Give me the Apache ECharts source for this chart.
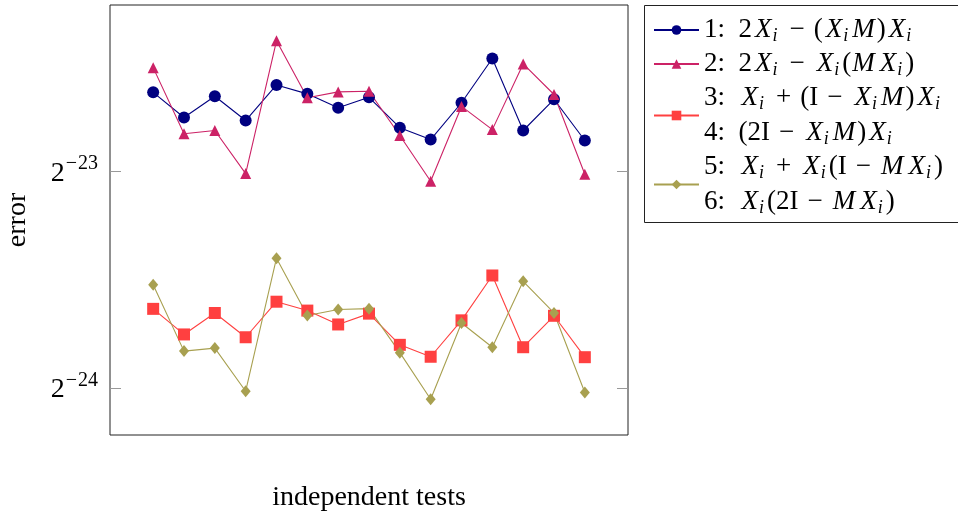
<!DOCTYPE html>
<html><head><meta charset="utf-8">
<script src="https://cdn.jsdelivr.net/npm/echarts@6/dist/echarts.min.js"></script>
<style>html,body{margin:0;padding:0;background:#fff}#c{width:958px;height:512px}</style>
</head><body><div id="c"></div>
<script>
// x positions: independent test number
const tests = [1,2,3,4,5,6,7,8,9,10,11,12,13,14,15];
// log2(error)
const log2Err1 = [-22.636,-22.752,-22.654,-22.766,-22.602,-22.643,-22.707,-22.659,-22.799,-22.854,-22.684,-22.480,-22.812,-22.668,-22.858];
const log2Err2 = [-22.522,-22.827,-22.812,-23.011,-22.398,-22.661,-22.634,-22.631,-22.835,-23.046,-22.701,-22.808,-22.505,-22.646,-23.014];
const log2Err34 = [-23.635,-23.753,-23.654,-23.766,-23.602,-23.643,-23.707,-23.657,-23.801,-23.856,-23.688,-23.481,-23.812,-23.667,-23.858];
const log2Err56 = [-23.524,-23.830,-23.816,-24.015,-23.401,-23.666,-23.638,-23.634,-23.837,-24.052,-23.700,-23.812,-23.508,-23.654,-24.021];
const yTickExps = [-24, -23];
const legendNames = ['s1','s2','s34','s56'];

const F = 'Liberation Serif';
const pair = arr => tests.map((t, i) => [t, arr[i]]);

const legendText = {
  s1: '{n|1:  2}{x|X}{s|i}{o|−}{n|(}{x|X}{s|i}{m|M}{n|)}{x|X}{s|i}',
  s2: '{n|2:  2}{x|X}{s|i}{o|−}{x|X}{s|i}{n|(}{m|M}{x|X}{s|i}{n|)}',
  s34: '{n|3:  }{x|X}{s|i}{o|+}{n|(I}{o|−}{x|X}{s|i}{m|M}{n|)}{x|X}{s|i}\n{n|4:  (2I}{o|−}{x|X}{s|i}{m|M}{n|)}{x|X}{s|i}',
  s56: '{n|5:  }{x|X}{s|i}{o|+}{x|X}{s|i}{n|(I}{o|−}{m|M}{x|X}{s|i}{n|)}\n{n|6:  }{x|X}{s|i}{n|(2I}{o|−}{m|M}{x|X}{s|i}{n|)}'
};

const LH = 35;
const rich = {
  n: {fontFamily: F, fontSize: 27, lineHeight: LH, color: '#000'},
  x: {fontFamily: F, fontSize: 27, lineHeight: LH, fontStyle: 'italic', padding: [0, 1, 0, 3], color: '#000'},
  m: {fontFamily: F, fontSize: 27, lineHeight: LH, fontStyle: 'italic', padding: [0, 2, 0, 1], color: '#000'},
  s: {fontFamily: F, fontSize: 18, lineHeight: LH - 12, fontStyle: 'italic', padding: [12, 3, 0, 0], color: '#000'},
  o: {fontFamily: F, fontSize: 27, lineHeight: LH, padding: [0, 9, 0, 9], color: '#000'}
};

function mkSeries(name, data, color, symbol, size) {
  return {
    name, type: 'line', data: pair(data), symbol, symbolSize: size,
    lineStyle: {color, width: 1.1}, itemStyle: {color},
    animation: false
  };
}

const chart = echarts.init(document.getElementById('c'));
chart.setOption({
  animation: false,
  backgroundColor: '#fff',
  grid: {left: 110, top: 5, width: 518, height: 430, show: true, borderColor: '#222', borderWidth: 1,
         containLabel: false, outerBoundsMode: 'none'},
  graphic: [{
    type: 'rect', z: -1,
    shape: {x: 644.5, y: 5.5, width: 330, height: 217},
    style: {fill: '#fff', stroke: '#222', lineWidth: 1}
  }],
  legend: {
    data: legendNames, orient: 'vertical', left: 653, top: 15, padding: 0,
    itemWidth: 45, itemHeight: 12, itemGap: 4,
    formatter: name => legendText[name],
    textStyle: {rich}
  },
  xAxis: {
    type: 'value', min: -0.4, max: 16.4,
    axisLine: {show: false, onZero: false}, axisTick: {show: false}, axisLabel: {show: false}, splitLine: {show: false},
    name: 'independent tests', nameLocation: 'middle', nameGap: 49,
    nameTextStyle: {fontFamily: F, fontSize: 28, color: '#000'}
  },
  yAxis: [{
    type: 'value', min: -24.217, max: -22.233,
    axisLine: {show: false, onZero: false}, splitLine: {show: false},
    axisTick: {show: true, inside: true, length: 11, lineStyle: {color: '#999'}, customValues: yTickExps},
    axisLabel: {
      customValues: yTickExps, margin: 12,
      formatter: v => '{b|2}{m|−}{e|' + Math.abs(Math.round(v)) + '}',
      rich: {
        b: {fontFamily: F, fontSize: 28, lineHeight: 30, padding: [4, 1, 0, 0], color: '#000'},
        m: {fontFamily: F, fontSize: 20, lineHeight: 20, padding: [0, 1, 14, 0], color: '#000'},
        e: {fontFamily: F, fontSize: 20, lineHeight: 20, padding: [0, 0, 14, 0], color: '#000'}
      }
    },
    name: 'error', nameLocation: 'middle', nameGap: 78,
    nameTextStyle: {fontFamily: F, fontSize: 28, color: '#000'}
  }, {
    type: 'value', position: 'right', min: -24.217, max: -22.233,
    axisLine: {show: false, onZero: false}, splitLine: {show: false}, axisLabel: {show: false},
    axisTick: {show: true, inside: true, length: 11, lineStyle: {color: '#999'}, customValues: yTickExps}
  }],
  series: [
    mkSeries('s1', log2Err1, '#000080', 'circle', 12),
    mkSeries('s2', log2Err2, '#cc2266', 'triangle', 11),
    mkSeries('s34', log2Err34, '#ff4040', 'rect', 12),
    mkSeries('s56', log2Err56, '#a8a050', 'diamond', [10, 12])
  ]
});
</script></body></html>
